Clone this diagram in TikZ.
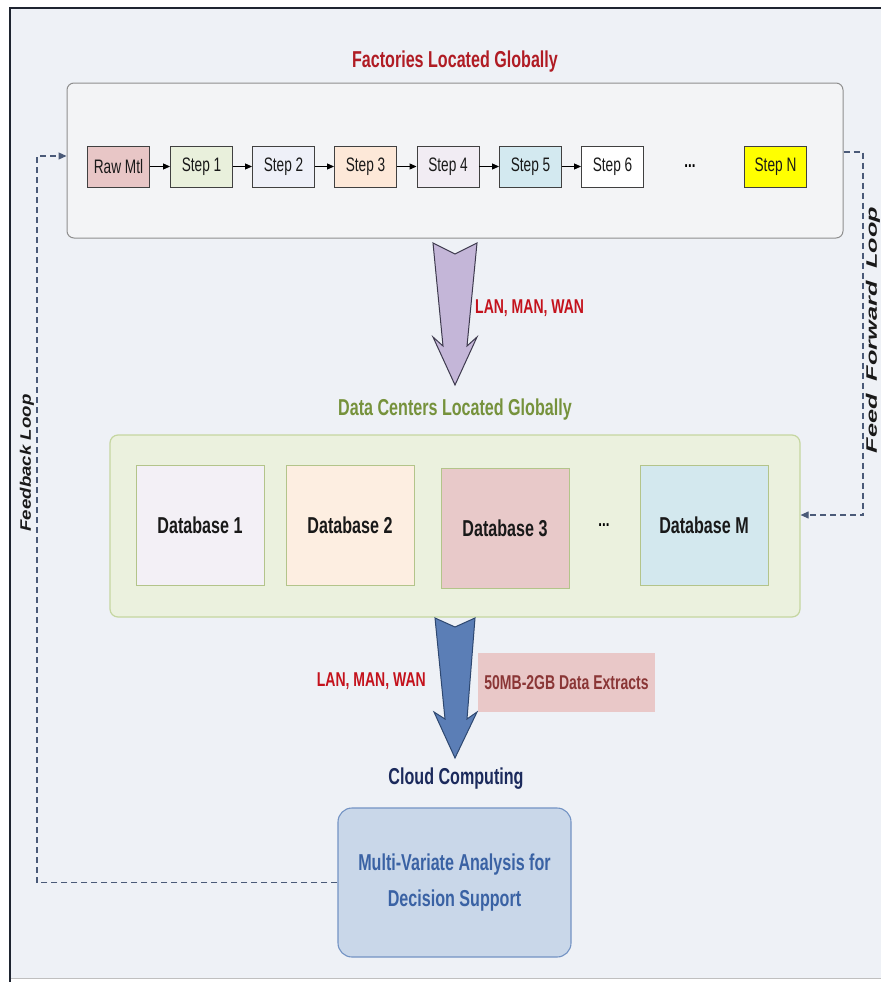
\documentclass[tikz,border=0pt]{standalone}
\usepackage{fontspec}
\setmainfont{Liberation Sans}
\newfontfamily\nf[FakeStretch=0.7]{Liberation Sans}
\usetikzlibrary{arrows.meta,calc}
\definecolor{bg}{HTML}{EEF1F6}
\definecolor{frameline}{HTML}{1E2430}
\definecolor{facfill}{HTML}{F3F4F6}
\definecolor{facdraw}{HTML}{8E8E8E}
\definecolor{dcfill}{HTML}{EBF1DE}
\definecolor{dcdraw}{HTML}{C5D6A0}
\definecolor{dbdraw}{HTML}{B3C48A}
\definecolor{titlered}{HTML}{B01C24}
\definecolor{lanred}{HTML}{C4121C}
\definecolor{dcgreen}{HTML}{76923C}
\definecolor{navy}{HTML}{1B2A5C}
\definecolor{mvablue}{HTML}{3A62A4}
\definecolor{mvafill}{HTML}{C9D7E9}
\definecolor{mvadraw}{HTML}{7393C4}
\definecolor{extfill}{HTML}{E9C8C8}
\definecolor{exttext}{HTML}{8A3636}
\definecolor{loopline}{HTML}{4A5A78}
\definecolor{cRaw}{HTML}{E8C6C6}
\definecolor{cS1}{HTML}{E9F0DC}
\definecolor{cS2}{HTML}{EEF0F8}
\definecolor{cS3}{HTML}{FDE8D8}
\definecolor{cS4}{HTML}{F1ECF3}
\definecolor{cS5}{HTML}{D3E9F0}
\definecolor{cS6}{HTML}{FFFFFF}
\definecolor{cSN}{HTML}{FFFF00}
\definecolor{cDB1}{HTML}{F3F0F6}
\definecolor{cDB2}{HTML}{FDEEE1}
\definecolor{cDB3}{HTML}{E8C9C9}
\definecolor{cDBM}{HTML}{D3E8EE}
\definecolor{arr1fill}{HTML}{C4B6D8}
\definecolor{arr1draw}{HTML}{3E3A4E}
\definecolor{arr2fill}{HTML}{5B7EB6}
\definecolor{arr2draw}{HTML}{2E4870}
\tikzset{
  stepbox/.style={draw=black!75, line width=0.9pt, minimum width=62pt, minimum height=41pt, inner sep=0pt,
    font=\nf\fontsize{19.5}{22}\selectfont, text=black!90},
  flowarrow/.style={-{Triangle[length=7pt,width=6pt]}, line width=1pt, black},
  dbbox/.style={draw=dbdraw, line width=0.9pt, minimum width=128pt, minimum height=120pt, inner sep=0pt,
    font=\nf\bfseries\fontsize{23}{26}\selectfont, text=black!90},
  boldlabel/.style={font=\nf\bfseries\fontsize{23}{26}\selectfont, inner sep=0pt},
  lanlabel/.style={font=\nf\bfseries\fontsize{20}{23}\selectfont, text=lanred, inner sep=0pt},
  loop/.style={draw=loopline, line width=1.1pt, dash pattern=on 6pt off 4pt},
  looptip/.style={-{Triangle[length=8pt,width=7pt]}},
}
\begin{document}
\begin{tikzpicture}[x=1pt,y=-1pt]
\useasboundingbox (0,0) rectangle (881,982);
% frame
\fill[white] (0,0) rectangle (881,982);
\fill[bg] (10,8) rectangle (881,978);
\draw[black!25, line width=1.2pt] (10,978.5) -- (881,978.5);
\draw[frameline, line width=2.5pt] (10,982) -- (10,8) -- (881,8);

% factories
\node[titlered, boldlabel] (factitle) at (455,62) {Factories Located Globally};
\node[draw=facdraw, fill=facfill, line width=1pt, rounded corners=7pt, minimum width=776pt, minimum height=155pt] (fac) at (455,160.5) {};
\node[stepbox, fill=cRaw] (raw) at (118.5,166.5) {Raw Mtl};
\node[stepbox, fill=cS1] (s1) at (201.5,166.5) {Step 1};
\node[stepbox, fill=cS2] (s2) at (283.5,166.5) {Step 2};
\node[stepbox, fill=cS3] (s3) at (365.5,166.5) {Step 3};
\node[stepbox, fill=cS4] (s4) at (448,166.5) {Step 4};
\node[stepbox, fill=cS5] (s5) at (530.5,166.5) {Step 5};
\node[stepbox, fill=cS6] (s6) at (612.5,166.5) {Step 6};
\node[font=\nf\bfseries\fontsize{19}{22}\selectfont, inner sep=0pt] (sdots) at (690,166) {...};
\node[stepbox, fill=cSN] (sn) at (775.5,166.5) {Step N};
\draw[flowarrow] (raw) -- (s1);
\draw[flowarrow] (s1) -- (s2);
\draw[flowarrow] (s2) -- (s3);
\draw[flowarrow] (s3) -- (s4);
\draw[flowarrow] (s4) -- (s5);
\draw[flowarrow] (s5) -- (s6);

% arrow 1
\filldraw[fill=arr1fill, draw=arr1draw, line width=1pt, line join=miter]
  (433,243) -- (455,254) -- (477,243) -- (467,346) -- (477,337) -- (455,385) -- (433,337) -- (443,346) -- cycle;
\node[lanlabel, anchor=west] (lan1) at (475,308) {LAN, MAN, WAN};

% data centers
\node[dcgreen, boldlabel] (dctitle) at (455,410) {Data Centers Located Globally};
\node[draw=dcdraw, fill=dcfill, line width=1.2pt, rounded corners=8pt, minimum width=690pt, minimum height=182pt] (dc) at (455,526) {};
\node[dbbox, fill=cDB1] (db1) at (200,525) {Database 1};
\node[dbbox, fill=cDB2] (db2) at (350,525) {Database 2};
\node[dbbox, fill=cDB3] (db3) at (505,528) {Database 3};
\node[font=\nf\bfseries\fontsize{19}{22}\selectfont, inner sep=0pt] (dbdots) at (604,525) {...};
\node[dbbox, fill=cDBM] (dbm) at (704,525) {Database M};

% arrow 2
\filldraw[fill=arr2fill, draw=arr2draw, line width=1pt, line join=miter]
  (435,618) -- (455,627) -- (475,618) -- (467,719) -- (477,712) -- (455,758) -- (434,712) -- (445,719) -- cycle;
\node[lanlabel, anchor=east] (lan2) at (426,681) {LAN, MAN, WAN};
\node[fill=extfill, minimum width=177pt, minimum height=59pt, inner sep=0pt,
  font=\nf\bfseries\fontsize{20}{23}\selectfont, text=exttext] (ext) at (566.5,682.5) {50MB-2GB Data Extracts};

% cloud
\node[navy, boldlabel] (cloud) at (456,779) {Cloud Computing};
\node[draw=mvadraw, fill=mvafill, line width=1.1pt, rounded corners=14pt, minimum width=233pt, minimum height=149pt,
  align=center, font=\nf\bfseries\fontsize{23}{36}\selectfont, text=mvablue] (mva) at (454.5,882.5)
  {Multi-Variate Analysis for\\Decision Support};

% loops
\coordinate (fbl) at (37,882.5);
\coordinate (fbt) at (37,156);
\draw[loop, looptip] (mva.west) -- (fbl) -- (fbt) -- (fbt -| fac.west);
\node[rotate=90, inner sep=0pt, text=black!90] (fbtext) at (27,463)
  {\resizebox{137pt}{11pt}{\bfseries\itshape Feedback Loop}};
\coordinate (ffa) at (863,152);
\coordinate (ffb) at (863,515);
\draw[loop, looptip] (ffa -| fac.east) -- (ffa) -- (ffb) -- (ffb -| dc.east);
\node[rotate=90, inner sep=0pt, text=black!90] (fftext) at (873,330)
  {\resizebox{246pt}{11pt}{\bfseries\itshape Feed\enspace Forward\enspace Loop}};
\end{tikzpicture}
\end{document}
